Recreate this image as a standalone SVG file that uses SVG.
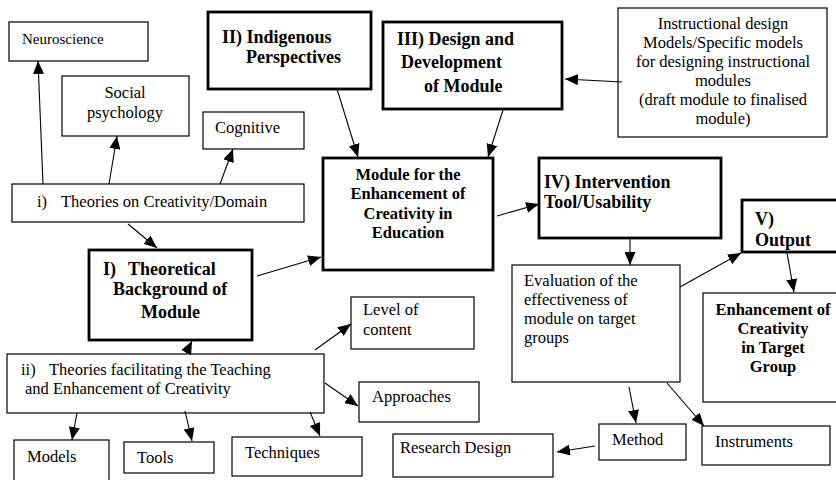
<svg xmlns="http://www.w3.org/2000/svg" width="836" height="480" viewBox="0 0 836 480" font-family="Liberation Serif, DejaVu Serif, serif">
<defs>
<style>
.thin{fill:#fff;stroke:#000;stroke-width:1.2}
.thick{fill:#fff;stroke:#000;stroke-width:2.8}
text{font-family:'Liberation Serif','DejaVu Serif',serif;fill:#000}
.r{font-size:16.5px}
.b{font-size:18px;font-weight:bold}
.bm{font-size:16.5px;font-weight:bold}
.c{text-anchor:middle}
.conn line{stroke:#000;stroke-width:1.1;marker-end:url(#ah)}
</style>
<marker id="ah" markerUnits="userSpaceOnUse" markerWidth="13" markerHeight="11" refX="13" refY="5.5" orient="auto" viewBox="0 0 13 11">
<path d="M0,0 L13,5.5 L0,11 z" fill="#000"/>
</marker>
<clipPath id="vclip"><rect x="742" y="200" width="100" height="51"/></clipPath>
</defs>
<rect width="836" height="480" fill="#fff"/>

<g id="neuroscience"><rect class="thin" x="9" y="22" width="139" height="39"/><text class="r" x="22" y="44" style="font-size:15px">Neuroscience</text></g>
<g id="social"><rect class="thin" x="62" y="76" width="127" height="60"/><text class="r c" x="125" y="98">Social</text><text class="r c" x="125" y="118">psychology</text></g>
<g id="cognitive"><rect class="thin" x="203" y="112" width="101" height="37"/><text class="r" x="215" y="133">Cognitive</text></g>
<g id="theories-domain"><rect class="thin" x="12" y="184" width="292" height="38"/><text class="r" x="37" y="207">i)</text><text class="r" x="61" y="207">Theories on Creativity/Domain</text></g>
<g id="indigenous"><rect class="thick" x="208" y="12" width="163" height="77"/><text class="b" x="222" y="43">II) Indigenous</text><text class="b" x="246" y="63">Perspectives</text></g>
<g id="design"><rect class="thick" x="383" y="22" width="179" height="87"/><text class="b" x="397" y="45">III) Design and</text><text class="b" x="401" y="68">Development</text><text class="b" x="424" y="92">of Module</text></g>
<g id="instructional"><rect class="thin" x="618" y="8" width="209" height="129"/><text class="r c" x="723" y="29">Instructional design</text><text class="r c" x="723" y="48">Models/Specific models</text><text class="r c" x="723" y="67">for designing instructional</text><text class="r c" x="723" y="86">modules</text><text class="r c" x="723" y="105">(draft module to finalised</text><text class="r c" x="723" y="124">module)</text></g>
<g id="module"><rect class="thick" x="323" y="158" width="170" height="112"/><text class="bm c" x="408" y="180">Module for the</text><text class="bm c" x="408" y="199">Enhancement of</text><text class="bm c" x="408" y="219">Creativity in</text><text class="bm c" x="408" y="238">Education</text></g>
<g id="intervention"><rect class="thick" x="539" y="158" width="182" height="80"/><text class="b" x="544" y="188">IV) Intervention</text><text class="b" x="544" y="208">Tool/Usability</text></g>
<g id="output"><rect class="thick" x="742" y="200" width="110" height="52"/><g clip-path="url(#vclip)"><text class="b" x="755" y="225">V)</text><text class="b" x="755" y="246">Output</text></g></g>
<g id="theoretical"><rect class="thick" x="89" y="250" width="163" height="90"/><text class="b" x="103" y="275">I)</text><text class="b" x="128" y="275">Theoretical</text><text class="b" x="113" y="295">Background of</text><text class="b" x="141" y="318">Module</text></g>
<g id="theories-teaching"><rect class="thin" x="7" y="354" width="317" height="59"/><text class="r" x="21" y="375">ii)</text><text class="r" x="49" y="375">Theories facilitating the Teaching</text><text class="r" x="25" y="394">and Enhancement of Creativity</text></g>
<g id="level"><rect class="thin" x="351" y="297" width="123" height="52"/><text class="r" x="363" y="315">Level of</text><text class="r" x="363" y="335">content</text></g>
<g id="approaches"><rect class="thin" x="359" y="382" width="120" height="40"/><text class="r" x="372" y="402">Approaches</text></g>
<g id="models"><rect class="thin" x="14" y="440" width="95" height="42"/><text class="r" x="27" y="462">Models</text></g>
<g id="tools"><rect class="thin" x="124" y="442" width="90" height="31"/><text class="r" x="137" y="463">Tools</text></g>
<g id="techniques"><rect class="thin" x="232" y="437" width="130" height="39"/><text class="r" x="245" y="458">Techniques</text></g>
<g id="evaluation"><rect class="thin" x="512" y="265" width="168" height="117"/><text class="r" x="524" y="286">Evaluation of the</text><text class="r" x="524" y="305">effectiveness of</text><text class="r" x="524" y="324">module on target</text><text class="r" x="524" y="343">groups</text></g>
<g id="enhancement"><rect class="thin" x="703" y="293" width="140" height="109"/><text class="bm c" x="773" y="315">Enhancement of</text><text class="bm c" x="773" y="334">Creativity</text><text class="bm c" x="773" y="353">in Target</text><text class="bm c" x="773" y="372">Group</text></g>
<g id="method"><rect class="thin" x="599" y="424" width="87" height="36"/><text class="r" x="612" y="445">Method</text></g>
<g id="instruments"><rect class="thin" x="702" y="426" width="128" height="39"/><text class="r" x="715" y="447">Instruments</text></g>
<g id="research"><rect class="thin" x="393" y="434" width="160" height="43"/><text class="r" x="400" y="453">Research Design</text></g>

<g id="connectors" class="conn">
<line x1="43" y1="184" x2="38" y2="61"/>
<line x1="109" y1="184" x2="117" y2="136"/>
<line x1="220" y1="184" x2="233" y2="149"/>
<line x1="128" y1="224" x2="157" y2="248"/>
<line x1="337" y1="89" x2="358" y2="157"/>
<line x1="622" y1="82" x2="565" y2="79"/>
<line x1="503" y1="110" x2="488" y2="157"/>
<line x1="257" y1="276" x2="321" y2="257"/>
<line x1="497" y1="216" x2="539" y2="204"/>
<line x1="630" y1="238" x2="630" y2="265"/>
<line x1="680" y1="287" x2="741" y2="253"/>
<line x1="787" y1="253" x2="794" y2="292"/>
<line x1="186" y1="353" x2="192" y2="341"/>
<line x1="315" y1="350" x2="351" y2="324"/>
<line x1="325" y1="383" x2="358" y2="406"/>
<line x1="77" y1="413" x2="72" y2="440"/>
<line x1="185" y1="411" x2="192" y2="441"/>
<line x1="310" y1="412" x2="320" y2="436"/>
<line x1="629" y1="387" x2="636" y2="423"/>
<line x1="667" y1="383" x2="704" y2="426"/>
<line x1="595" y1="446" x2="557" y2="452"/>
</g>
</svg>
